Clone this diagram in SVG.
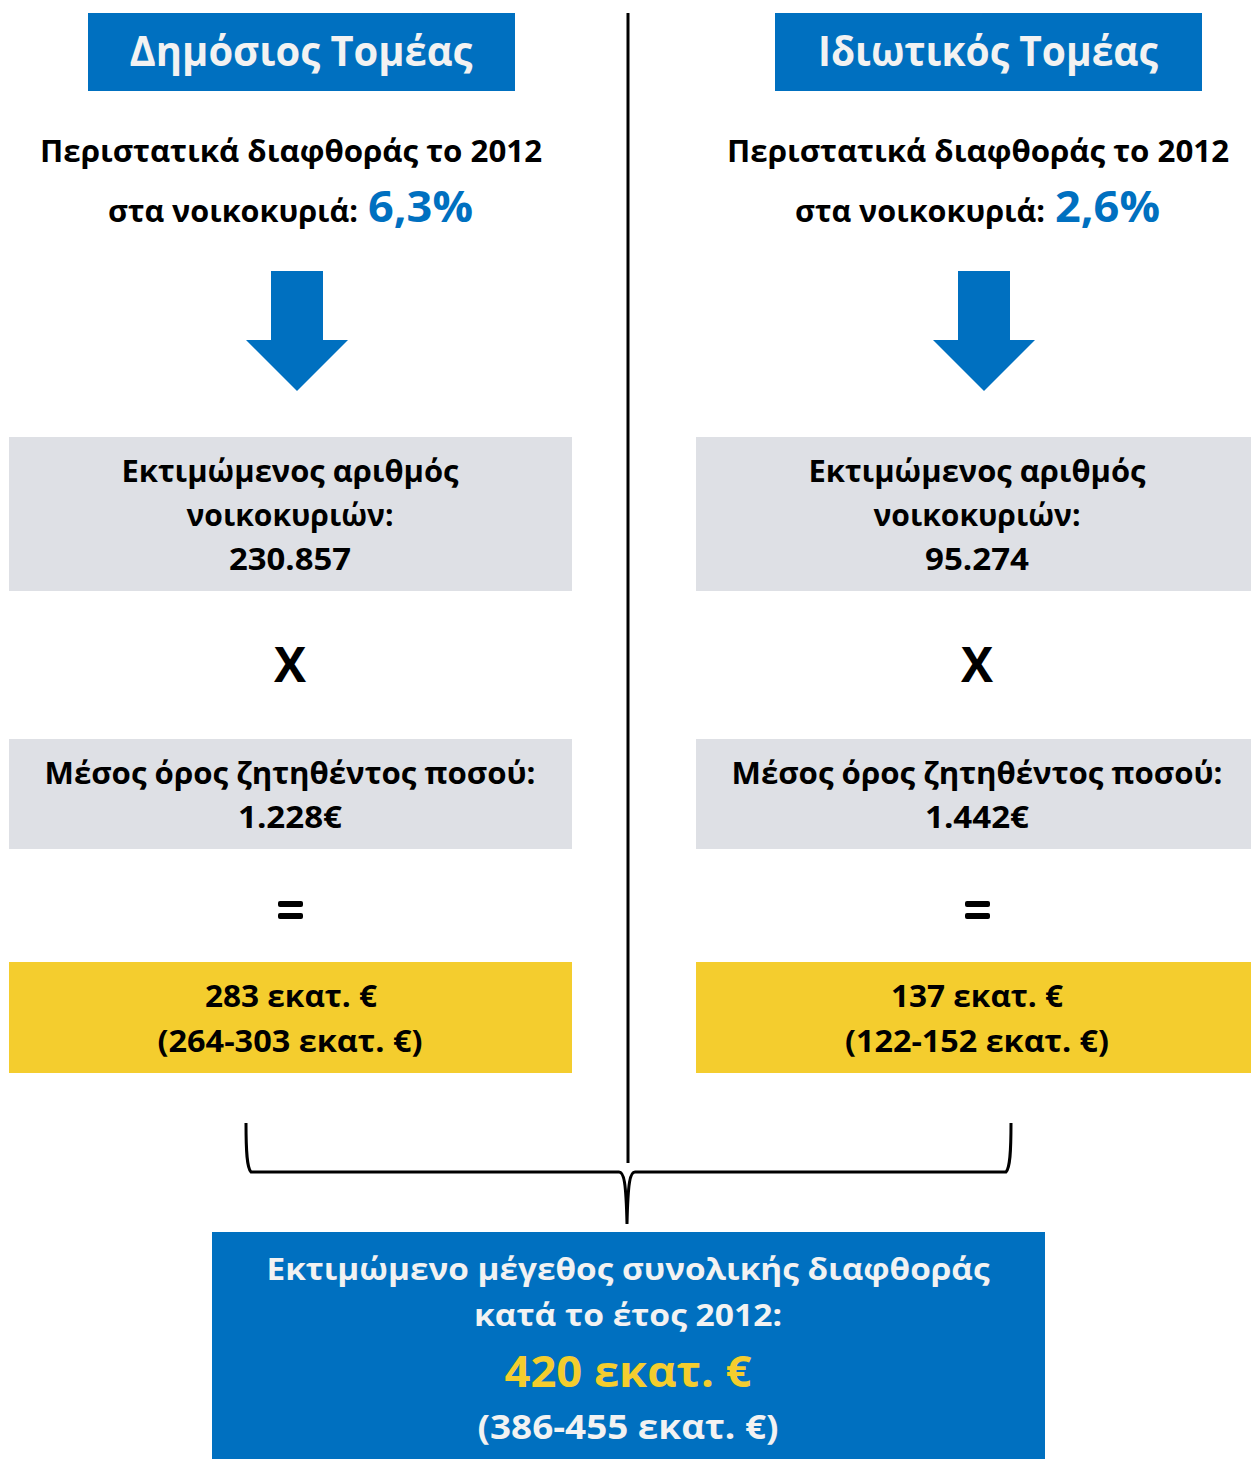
<svg xmlns="http://www.w3.org/2000/svg" width="1251" height="1459" viewBox="0 0 1251 1459">
<style>
text{font-family:"Open Sans","Noto Sans","DejaVu Sans",sans-serif;font-weight:bold;text-anchor:middle;fill:#000}
.hdr{fill:#F2F2F2;font-size:42px}
.t{font-size:30px}
.pct{fill:#0070C0;font-size:43px;text-anchor:start}
.big{font-size:48px}
.w{fill:#F2F2F2;font-size:31px}
.w2{fill:#F2F2F2;font-size:34px}
.y{fill:#F4CD2E;font-size:43px}
.blue{fill:#0070C0}
.gray{fill:#DEE0E5}
.yel{fill:#F4CD2E}
</style>
<rect width="1251" height="1459" fill="#fff"/>

<g id="connectors" fill="none" stroke="#000">
<line x1="628" y1="13" x2="628" y2="1163" stroke-width="3"/>
<path d="M246,1123 C246,1152 247,1168 251,1172 L619,1172 C624,1172 626,1182 627,1224 C628,1182 630,1172 635,1172 L1006,1172 C1010,1168 1011,1152 1011,1123" stroke-width="3"/>
</g>

<g id="left-header">
<rect class="blue" x="88" y="13" width="427" height="78"/>
<text class="hdr" x="301" y="66" textLength="343" lengthAdjust="spacingAndGlyphs">Δημόσιος Τομέας</text>
</g>
<g id="right-header">
<rect class="blue" x="775" y="13" width="427" height="78"/>
<text class="hdr" x="988" y="66" textLength="340" lengthAdjust="spacingAndGlyphs">Ιδιωτικός Τομέας</text>
</g>

<g id="left-rate">
<text class="t" x="291" y="162" textLength="502" lengthAdjust="spacingAndGlyphs">Περιστατικά διαφθοράς το 2012</text>
<text class="t" x="233" y="222" textLength="250" lengthAdjust="spacingAndGlyphs">στα νοικοκυριά:</text>
<text class="pct" x="368" y="222" textLength="105" lengthAdjust="spacingAndGlyphs">6,3%</text>
</g>
<g id="right-rate">
<text class="t" x="978" y="162" textLength="502" lengthAdjust="spacingAndGlyphs">Περιστατικά διαφθοράς το 2012</text>
<text class="t" x="920" y="222" textLength="250" lengthAdjust="spacingAndGlyphs">στα νοικοκυριά:</text>
<text class="pct" x="1055" y="222" textLength="105" lengthAdjust="spacingAndGlyphs">2,6%</text>
</g>

<g id="left-arrow">
<polygon class="blue" points="271,271 323,271 323,340 348,340 297,391 246,340 271,340"/>
</g>
<g id="right-arrow">
<polygon class="blue" points="958,271 1010,271 1010,340 1035,340 984,391 933,340 958,340"/>
</g>

<g id="left-households">
<rect class="gray" x="9" y="437" width="563" height="154"/>
<text class="t" x="290" y="482" textLength="337" lengthAdjust="spacingAndGlyphs">Εκτιμώμενος αριθμός</text>
<text class="t" x="290" y="526" textLength="207" lengthAdjust="spacingAndGlyphs">νοικοκυριών:</text>
<text class="t" x="290" y="570" textLength="122" lengthAdjust="spacingAndGlyphs">230.857</text>
</g>
<g id="right-households">
<rect class="gray" x="696" y="437" width="555" height="154"/>
<text class="t" x="977" y="482" textLength="337" lengthAdjust="spacingAndGlyphs">Εκτιμώμενος αριθμός</text>
<text class="t" x="977" y="526" textLength="207" lengthAdjust="spacingAndGlyphs">νοικοκυριών:</text>
<text class="t" x="977" y="570" textLength="104" lengthAdjust="spacingAndGlyphs">95.274</text>
</g>

<g id="left-times"><text class="big" x="290" y="682" textLength="32" lengthAdjust="spacingAndGlyphs">X</text></g>
<g id="right-times"><text class="big" x="977" y="682" textLength="32" lengthAdjust="spacingAndGlyphs">X</text></g>

<g id="left-average">
<rect class="gray" x="9" y="739" width="563" height="110"/>
<text class="t" x="290" y="784" textLength="491" lengthAdjust="spacingAndGlyphs">Μέσος όρος ζητηθέντος ποσού:</text>
<text class="t" x="290" y="828" textLength="104" lengthAdjust="spacingAndGlyphs">1.228€</text>
</g>
<g id="right-average">
<rect class="gray" x="696" y="739" width="555" height="110"/>
<text class="t" x="977" y="784" textLength="491" lengthAdjust="spacingAndGlyphs">Μέσος όρος ζητηθέντος ποσού:</text>
<text class="t" x="977" y="828" textLength="104" lengthAdjust="spacingAndGlyphs">1.442€</text>
</g>

<g id="left-equals"><rect x="278" y="901" width="25" height="6" rx="2"/><rect x="278" y="913" width="25" height="6" rx="2"/></g>
<g id="right-equals"><rect x="965" y="901" width="25" height="6" rx="2"/><rect x="965" y="913" width="25" height="6" rx="2"/></g>

<g id="left-result">
<rect class="yel" x="9" y="962" width="563" height="111"/>
<text class="t" x="291" y="1007" textLength="172" lengthAdjust="spacingAndGlyphs">283 εκατ. €</text>
<text class="t" x="290" y="1052" textLength="265" lengthAdjust="spacingAndGlyphs">(264-303 εκατ. €)</text>
</g>
<g id="right-result">
<rect class="yel" x="696" y="962" width="555" height="111"/>
<text class="t" x="977" y="1007" textLength="172" lengthAdjust="spacingAndGlyphs">137 εκατ. €</text>
<text class="t" x="977" y="1052" textLength="264" lengthAdjust="spacingAndGlyphs">(122-152 εκατ. €)</text>
</g>

<g id="total">
<rect class="blue" x="212" y="1232" width="833" height="227"/>
<text class="w" x="628" y="1280" textLength="723" lengthAdjust="spacingAndGlyphs">Εκτιμώμενο μέγεθος συνολικής διαφθοράς</text>
<text class="w" x="628" y="1326" textLength="308" lengthAdjust="spacingAndGlyphs">κατά το έτος 2012:</text>
<text class="y" x="628" y="1387" textLength="247" lengthAdjust="spacingAndGlyphs">420 εκατ. €</text>
<text class="w2" x="628" y="1439" textLength="301" lengthAdjust="spacingAndGlyphs">(386-455 εκατ. €)</text>
</g>
</svg>
